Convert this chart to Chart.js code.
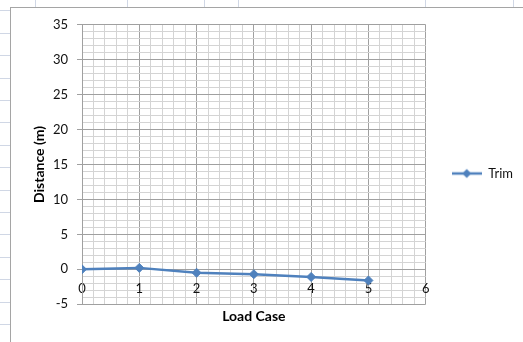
<!DOCTYPE html>
<html>
<head>
<meta charset="utf-8">
<script src="https://cdn.jsdelivr.net/npm/chart.js@4/dist/chart.umd.min.js"></script>
<style>
  html, body { margin: 0; padding: 0; background: #fff; width: 523px; height: 342px; overflow: hidden; }
  #sheetLeft { position: absolute; left: 0; top: 0; width: 10px; height: 342px;
    background: repeating-linear-gradient(to bottom, transparent 0px, transparent 10.4px, #d0d7e5 10.4px, #d0d7e5 11.4px, transparent 11.4px, transparent 22.4px); }
  .col { position: absolute; top: 0; width: 1px; height: 7px; background: #d0d7e5; }
  #frame { position: absolute; left: 10px; top: 7px; width: 513px; height: 335px; box-sizing: border-box;
    border-left: 1px solid #a5a5a5; border-top: 1px solid #a5a5a5; background: #fff; }
  canvas { display: block; }
</style>
</head>
<body>
<div id="sheetLeft"></div>
<div class="col" style="left:35px"></div>
<div class="col" style="left:127px"></div>
<div class="col" style="left:204px"></div>
<div class="col" style="left:238px"></div>
<div class="col" style="left:425px"></div>
<div class="col" style="left:513px"></div>
<div id="frame"><canvas id="c" width="512" height="334"></canvas></div>
<script>
// ---- data ----
const loadCases = [0, 1, 2, 3, 4, 5];
const trimValues = [0, 0.2, -0.5, -0.7, -1.1, -1.6];
const seriesName = 'Trim';
const xTitle = 'Load Case';
const yTitle = 'Distance (m)';

const blue = '#4F81BD';
const majorGrid = '#a0a0a0';
const minorGrid = '#d4d4d4';
const FONT = 'Lato, "Open Sans", sans-serif';

// legend sample: line with diamond marker
const sample = document.createElement('canvas');
sample.width = 30; sample.height = 12;
(function () {
  const g = sample.getContext('2d');
  g.strokeStyle = blue; g.lineWidth = 2.5;
  g.beginPath(); g.moveTo(0, 6); g.lineTo(30, 6); g.stroke();
  g.fillStyle = blue;
  g.beginPath(); g.moveTo(15, 1.5); g.lineTo(19.5, 6); g.lineTo(15, 10.5); g.lineTo(10.5, 6); g.closePath(); g.fill();
})();

const isInt = v => Math.abs(v - Math.round(v)) < 1e-6;
const isMajorY = v => isInt(v) && Math.round(v) % 5 === 0;

new Chart(document.getElementById('c'), {
  type: 'line',
  data: {
    datasets: [{
      label: seriesName,
      data: loadCases.map((x, i) => ({ x: x, y: trimValues[i] })),
      borderColor: blue,
      backgroundColor: blue,
      borderWidth: 2.5,
      tension: 0,
      pointStyle: 'rectRot',
      pointRadius: 4.5,
      pointBackgroundColor: blue,
      pointBorderColor: blue,
      pointBorderWidth: 1
    }]
  },
  options: {
    responsive: false,
    animation: false,
    devicePixelRatio: 1,
    layout: { padding: { top: 16, left: 0, right: 0, bottom: 12 } },
    scales: {
      x: {
        type: 'linear',
        position: { y: 0 },
        min: 0, max: 6,
        ticks: {
          stepSize: 0.2,
          autoSkip: false,
          maxRotation: 0,
          padding: 12,
          color: '#111',
          font: { family: FONT, size: 13 },
          callback: v => isInt(v) ? String(Math.round(v)) : ''
        },
        grid: {
          drawTicks: false,
          color: c => isInt(c.tick.value) ? majorGrid : minorGrid,
          lineWidth: 1
        },
        border: { display: true, color: majorGrid }
      },
      y: {
        type: 'linear',
        min: -5, max: 35,
        ticks: {
          stepSize: 1,
          autoSkip: false,
          padding: 9,
          color: '#111',
          font: { family: FONT, size: 13 },
          callback: v => isMajorY(v) ? String(Math.round(v)) : ''
        },
        grid: {
          color: c => isMajorY(c.tick.value) ? majorGrid : minorGrid,
          tickColor: c => isMajorY(c.tick.value) ? majorGrid : 'rgba(0,0,0,0)',
          tickLength: 5,
          lineWidth: 1
        },
        border: { display: true, color: majorGrid },
        title: {
          display: true,
          text: yTitle,
          color: '#000',
          font: { family: FONT, size: 14, weight: 'bold' },
          padding: { top: 20, bottom: 0 }
        },
        afterFit: s => { s.width = 71; }
      }
    },
    plugins: {
      title: {
        display: true,
        position: 'bottom',
        fullSize: false,
        text: xTitle,
        color: '#000',
        font: { family: FONT, size: 14, weight: 'bold' },
        padding: { top: 4, bottom: 5 }
      },
      legend: {
        position: 'right',
        fullSize: false,
        title: { display: true, text: ' ', padding: 0, font: { family: FONT, size: 15 } },
        labels: {
          padding: 26,
          color: '#111',
          font: { family: FONT, size: 13 },
          usePointStyle: true,
          pointStyleWidth: 30,
          generateLabels: chart => {
            const items = Chart.defaults.plugins.legend.labels.generateLabels(chart);
            items.forEach(it => { it.pointStyle = sample; });
            return items;
          }
        }
      },
      tooltip: { enabled: false }
    }
  }
});
</script>
</body>
</html>
